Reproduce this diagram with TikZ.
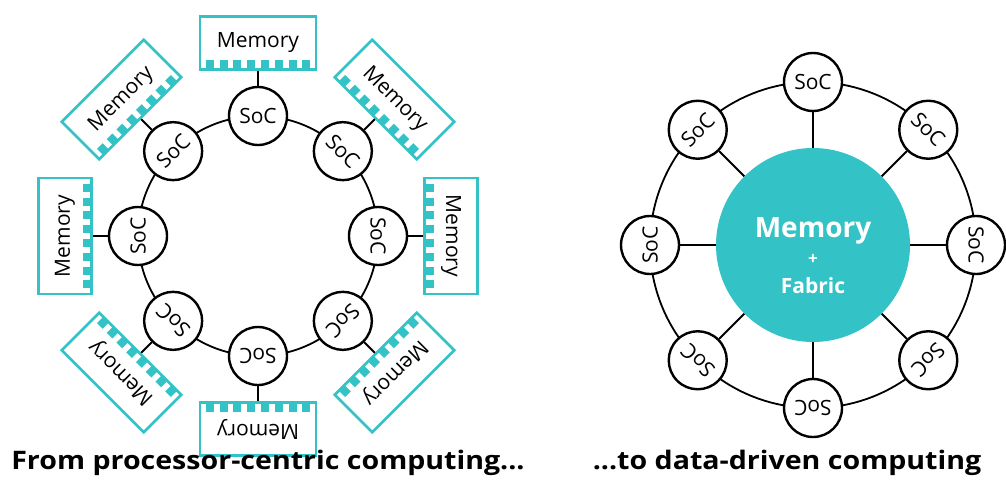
\documentclass[tikz,border=0pt]{standalone}
\usepackage{fontspec}
\setmainfont{Open Sans}
\newfontfamily\capfont{Open Sans}[FakeStretch=1.12]
\usetikzlibrary{positioning}
\definecolor{memteal}{HTML}{33C3C6}
\tikzset{
  soc/.style={draw, circle, line width=2.4pt, minimum size=58pt, inner sep=0pt, fill=white, transform shape, font=\fontsize{21}{21}\selectfont},
  membox/.style={draw=memteal, rectangle, line width=2.6pt, minimum width=116pt, minimum height=53pt, fill=white, transform shape, font=\fontsize{21}{21}\selectfont},
  ring/.style={line width=1.8pt},
  core/.style={circle, fill=memteal, minimum size=194pt, inner sep=0pt},
  coretext/.style={text=white, font=\bfseries, anchor=base},
  caption/.style={font=\capfont\fontsize{25.5}{25.5}\selectfont\bfseries, anchor=base}
}

\begin{document}
\begin{tikzpicture}[x=1pt, y=1pt]
\useasboundingbox (0,0) rectangle (1006,491);

% processor-centric: every SoC with its own memory
\coordinate (lc) at (258,255);
\draw[ring] (lc) circle (120);
\foreach \i in {0,...,7} {
  \begin{scope}[shift={(lc)}, rotate=-45*\i]
    \node (s\i) at (0,120) [soc] {SoC};
    \node (m\i) at (0,193) [membox] {Memory};
    % pins on the inner edge of the module
    \foreach \k in {0,...,7}
      \fill[memteal] ({(\k-3.5)*13.8-4},166.5) rectangle ++(8,9);
  \end{scope}
  \draw[ring] (s\i) -- (m\i);
}

% data-driven: shared memory in the middle
\coordinate (rc) at (813,246);
\draw[ring] (rc) circle (163);
\node (core) at (rc) [core] {};
\foreach \i in {0,...,7} {
  \begin{scope}[shift={(rc)}, rotate=-45*\i]
    \node (r\i) at (0,163) [soc] {SoC};
  \end{scope}
  \draw[ring] (core) -- (r\i);
}
\node (memlbl) at ([yshift=8pt]core.center) [coretext, font=\fontsize{28}{28}\selectfont\bfseries] {Memory};
\node (pluslbl) at ([yshift=-14pt]core.center) [coretext, anchor=center, font=\fontsize{17}{17}\selectfont\bfseries] {+};
\node (fablbl) at ([yshift=-48pt]core.center) [coretext, font=\fontsize{21}{21}\selectfont\bfseries] {Fabric};

\node (lcap) at (268,22) [caption] {From processor-centric computing...};
\node (rcap) at (787,22) [caption] {...to data-driven computing};
\end{tikzpicture}
\end{document}
